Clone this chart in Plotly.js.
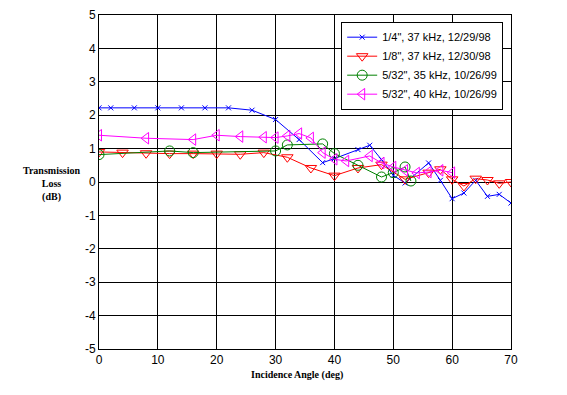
<!DOCTYPE html>
<html>
<head>
<meta charset="utf-8">
<script src="https://cdn.plot.ly/plotly-3.0.1.min.js"></script>
<style>html,body{margin:0;padding:0;background:#fff;}#chart{width:567px;height:395px;}</style>
</head>
<body>
<div id="chart"></div>
<script>
// Series 1: 1/4", 37 kHz, 12/29/98
var angle1 = [0, 2, 6, 10, 14, 18, 22, 26, 30, 34, 38, 40, 44, 46, 48, 50, 52, 56, 58, 60, 62, 64, 66, 68, 70];
var loss1  = [2.22, 2.22, 2.22, 2.22, 2.22, 2.22, 2.22, 2.15, 1.87, 1.27, 0.58, 0.7, 0.97, 1.1, 0.67, 0.2, -0.03, 0.57, 0.05, -0.5, -0.33, 0.05, -0.43, -0.37, -0.63];
// Series 2: 1/8", 37 kHz, 12/30/98
var angle2 = [0, 4, 8, 12, 16, 20, 24, 28, 32, 36, 40, 44, 48, 52, 56, 58, 60, 62, 64, 66, 68, 70];
var loss2  = [0.9, 0.88, 0.86, 0.85, 0.85, 0.85, 0.83, 0.88, 0.74, 0.42, 0.19, 0.42, 0.52, 0.08, 0.28, 0.38, 0.08, -0.12, 0.1, 0.06, -0.04, 0.0];
// Series 3: 5/32", 35 kHz, 10/26/99
var angle3 = [0, 12, 16, 30, 32, 38, 40, 44, 48, 50, 52, 53];
var loss3  = [0.82, 0.93, 0.88, 0.93, 1.11, 1.14, 0.85, 0.5, 0.15, 0.28, 0.45, 0.03];
// Series 4: 5/32", 40 kHz, 10/26/99
var angle4 = [0, 8, 16, 20, 24, 28, 30, 32, 34, 36, 38, 40, 42, 46, 48, 50, 52, 54, 56, 58, 60];
var loss4  = [1.4, 1.31, 1.27, 1.4, 1.36, 1.34, 1.33, 1.38, 1.45, 1.32, 0.88, 0.68, 0.63, 0.78, 0.57, 0.45, 0.35, 0.27, 0.3, 0.35, 0.28];

var seriesNames = ['1/4", 37 kHz, 12/29/98', '1/8", 37 kHz, 12/30/98', '5/32", 35 kHz, 10/26/99', '5/32", 40 kHz, 10/26/99'];
var xTickVals = [0, 10, 20, 30, 40, 50, 60, 70];
var xTickText = ['0', '10', '20', '30', '40', '50', '60', '70'];
var yTickVals = [-5, -4, -3, -2, -1, 0, 1, 2, 3, 4, 5];
var yTickText = ['-5', '-4', '-3', '-2', '-1', '0', '1', '2', '3', '4', '5'];

var traces = [
  {x: angle1, y: loss1, name: seriesNames[0], mode: 'lines+markers',
   line: {color: '#0000ff', width: 1}, marker: {symbol: 'x-thin-open', size: 5, color: '#0000ff', line: {color: '#0000ff', width: 1}}},
  {x: angle2, y: loss2, name: seriesNames[1], mode: 'lines+markers',
   line: {color: '#ff0000', width: 1}, marker: {symbol: 'triangle-down-open', size: 10, color: '#ff0000', line: {color: '#ff0000', width: 1}}},
  {x: angle3, y: loss3, name: seriesNames[2], mode: 'lines+markers',
   line: {color: '#008000', width: 1}, marker: {symbol: 'circle-open', size: 10, color: '#008000', line: {color: '#008000', width: 1}}},
  {x: angle4, y: loss4, name: seriesNames[3], mode: 'lines+markers',
   line: {color: '#ff00ff', width: 1}, marker: {symbol: 'triangle-left-open', size: 10, color: '#ff00ff', line: {color: '#ff00ff', width: 1}}}
];

var axisFont = {family: 'Liberation Sans, Arial, sans-serif', size: 12, color: '#000'};
var titleFont = {family: 'Liberation Serif, Times New Roman, serif', size: 10, color: '#000'};

var layout = {
  width: 567, height: 395,
  margin: {l: 99, r: 56, t: 15, b: 46, pad: 0},
  paper_bgcolor: '#fff', plot_bgcolor: '#fff',
  showlegend: true,
  legend: {x: 0.981, xanchor: 'right', y: 0.98, yanchor: 'top',
    bgcolor: '#fff', bordercolor: '#000', borderwidth: 1,
    font: {family: 'Liberation Sans, Arial, sans-serif', size: 11, color: '#000'},
    tracegroupgap: 0, itemwidth: 30},
  xaxis: {range: [0, 70], tickmode: 'array', tickvals: xTickVals, ticktext: xTickText,
    showgrid: true, gridcolor: '#000', gridwidth: 1, zeroline: false,
    showline: true, linecolor: '#000', linewidth: 1, mirror: true,
    ticks: 'inside', ticklen: 4, tickcolor: '#000', tickfont: axisFont},
  yaxis: {range: [-5, 5], tickmode: 'array', tickvals: yTickVals, ticktext: yTickText,
    showgrid: true, gridcolor: '#000', gridwidth: 1, zeroline: false,
    showline: true, linecolor: '#000', linewidth: 1, mirror: true,
    ticks: 'inside', ticklen: 4, tickcolor: '#000', tickfont: axisFont},
  annotations: [
    {text: '<b>Incidence Angle (deg)</b>', xref: 'paper', yref: 'paper', x: 0.48, y: -0.078,
     xanchor: 'center', yanchor: 'middle', showarrow: false, font: titleFont},
    {text: '<b>Transmission<br>Loss<br>(dB)</b>', xref: 'paper', yref: 'paper', x: -0.1165, y: 0.494,
     xanchor: 'center', yanchor: 'middle', showarrow: false, font: titleFont, align: 'center'}
  ]
};

Plotly.newPlot('chart', traces, layout, {displayModeBar: false, staticPlot: true});
</script>
</body>
</html>
